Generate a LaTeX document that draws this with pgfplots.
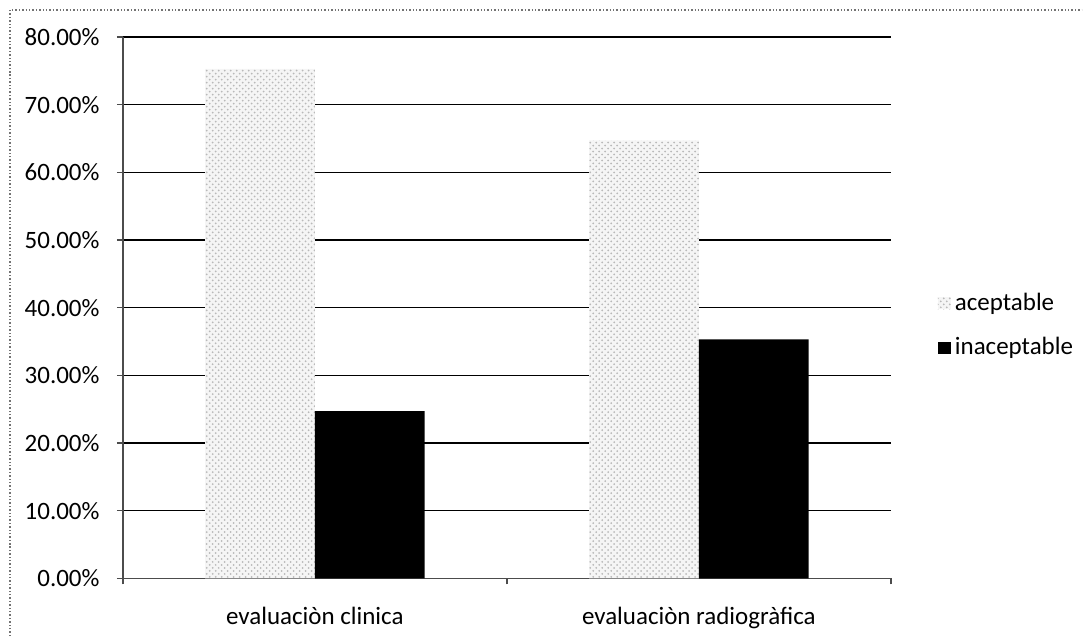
\documentclass[border=0pt]{standalone}
\usepackage{pgfplots}
\pgfplotsset{compat=1.18}
\usepackage{fontspec}
\setmainfont{Carlito}
\usetikzlibrary{patterns}

\begin{document}
\begin{tikzpicture}
\begin{axis}[
    scale only axis,
    width=384.5pt, height=271pt,
    ymin=0, ymax=80,
    xmin=-0.5, xmax=1.5,
    ybar=0pt, bar width=0.286,
    axis x line*=bottom, axis y line*=left,
    axis line style={black!70, line width=0.7pt},
    ytick={0,10,...,80},
    yticklabels={0.00\%,10.00\%,20.00\%,30.00\%,40.00\%,50.00\%,60.00\%,70.00\%,80.00\%},
    xtick={0,1},
    xticklabels={evaluaciòn clinica, evaluaciòn radiogràfica},
    minor xtick={-0.5,0.5,1.5},
    tick align=outside,
    major tick length=3pt,
    minor tick length=3pt,
    major x tick style={draw=none},
    tick style={black!70, line width=0.7pt},
    ymajorgrids,
    major grid style={black, line width=0.75pt},
    tick label style={font=\fontsize{12.5pt}{15pt}\selectfont, black},
    yticklabel style={inner sep=0pt, xshift=-8.5pt},
    xticklabel style={yshift=-8pt},
    legend style={draw=none, fill=none, at={(1.053,0.467)}, anchor=west,
        font=\fontsize{12.5pt}{15pt}\selectfont, row sep=8pt,
        cells={anchor=west}},
    legend image code/.code={\draw[#1,draw=none] (0pt,-3pt) rectangle (6.5pt,3pt);},
]
\addplot[draw=none, fill=gray!8, postaction={pattern=crosshatch dots, pattern color=gray!55}]
    coordinates {(0,75.3) (1,64.7)};
\addplot[draw=none, fill=black]
    coordinates {(0,24.7) (1,35.3)};
\legend{aceptable, inaceptable}
\end{axis}
\draw[black!55, densely dotted, line width=0.7pt]
    ([shift={(-56.5pt,-29pt)}]current axis.south west) --
    ([shift={(-56.5pt,284.5pt)}]current axis.south west) --
    ([shift={(480pt,284.5pt)}]current axis.south west);
\path ([shift={(-61.5pt,-29pt)}]current axis.south west) rectangle
    ([shift={(480pt,289.5pt)}]current axis.south west);
\end{tikzpicture}
\end{document}
